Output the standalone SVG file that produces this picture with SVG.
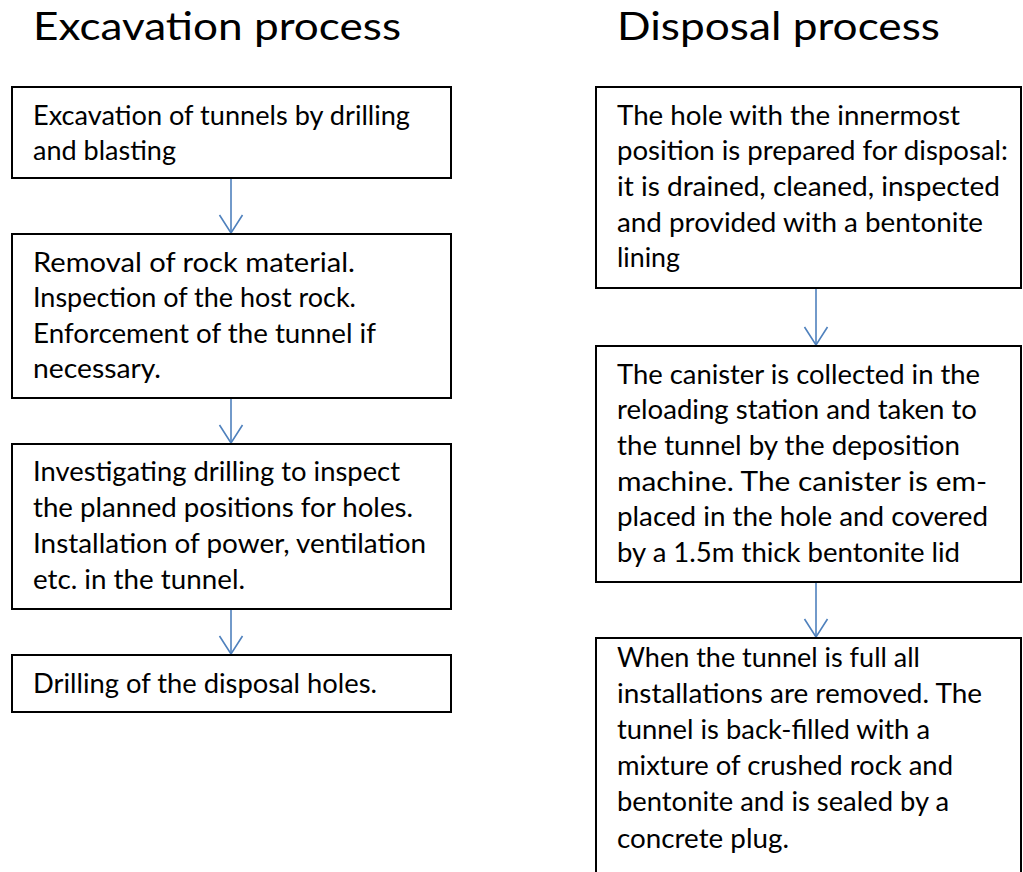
<svg xmlns="http://www.w3.org/2000/svg" width="1023" height="872" viewBox="0 0 1023 872">
<style>
.box{fill:#fff;stroke:#000;stroke-width:2}
.t{font-family:Lato,"Liberation Sans",sans-serif;font-size:26px;fill:#000}
.h{font-family:Lato,"Liberation Sans",sans-serif;font-size:38px;fill:#000}
.c{stroke:#4F81BD;stroke-width:1.6;fill:none}
</style>
<defs>
<marker id="ah" markerWidth="20" markerHeight="26" refX="19" refY="13" orient="auto" markerUnits="userSpaceOnUse" viewBox="0 0 20 26">
<path d="M1,1.5 L19,13 L1,24.5" fill="none" stroke="#4F81BD" stroke-width="1.6"/>
</marker>
</defs>
<rect width="1023" height="872" fill="#fff"/>
<text class="h" x="33" y="40" textLength="368" lengthAdjust="spacingAndGlyphs">Excavation process</text>
<text class="h" x="617" y="40" textLength="323" lengthAdjust="spacingAndGlyphs">Disposal process</text>
<g id="connectors">
<line class="c" x1="231" y1="179" x2="231" y2="233" marker-end="url(#ah)"/>
<line class="c" x1="231" y1="399" x2="231" y2="443" marker-end="url(#ah)"/>
<line class="c" x1="231" y1="610" x2="231" y2="654" marker-end="url(#ah)"/>
<line class="c" x1="816" y1="289" x2="816" y2="345" marker-end="url(#ah)"/>
<line class="c" x1="816" y1="583" x2="816" y2="637" marker-end="url(#ah)"/>
</g>
<g id="e1"><rect class="box" x="12" y="87" width="439" height="91"/>
<text class="t" x="33" y="125" textLength="377" lengthAdjust="spacingAndGlyphs">Excavation of tunnels by drilling</text>
<text class="t" x="33" y="160" textLength="143" lengthAdjust="spacingAndGlyphs">and blasting</text></g>
<g id="e2"><rect class="box" x="12" y="234" width="439" height="164"/>
<text class="t" x="33" y="272" textLength="322" lengthAdjust="spacingAndGlyphs">Removal of rock material.</text>
<text class="t" x="33" y="307" textLength="323" lengthAdjust="spacingAndGlyphs">Inspection of the host rock.</text>
<text class="t" x="33" y="343" textLength="343" lengthAdjust="spacingAndGlyphs">Enforcement of the tunnel if</text>
<text class="t" x="33" y="378" textLength="128" lengthAdjust="spacingAndGlyphs">necessary.</text></g>
<g id="e3"><rect class="box" x="12" y="444" width="439" height="165"/>
<text class="t" x="33" y="481" textLength="367" lengthAdjust="spacingAndGlyphs">Investigating drilling to inspect</text>
<text class="t" x="33" y="517" textLength="380" lengthAdjust="spacingAndGlyphs">the planned positions for holes.</text>
<text class="t" x="33" y="553" textLength="393" lengthAdjust="spacingAndGlyphs">Installation of power, ventilation</text>
<text class="t" x="33" y="589" textLength="212" lengthAdjust="spacingAndGlyphs">etc. in the tunnel.</text></g>
<g id="e4"><rect class="box" x="12" y="655" width="439" height="57"/>
<text class="t" x="33" y="693" textLength="344" lengthAdjust="spacingAndGlyphs">Drilling of the disposal holes.</text></g>
<g id="d1"><rect class="box" x="596" y="87" width="425" height="201"/>
<text class="t" x="617" y="125" textLength="343" lengthAdjust="spacingAndGlyphs">The hole with the innermost</text>
<text class="t" x="617" y="160" textLength="391" lengthAdjust="spacingAndGlyphs">position is prepared for disposal:</text>
<text class="t" x="617" y="196" textLength="383" lengthAdjust="spacingAndGlyphs">it is drained, cleaned, inspected</text>
<text class="t" x="617" y="232" textLength="366" lengthAdjust="spacingAndGlyphs">and provided with a bentonite</text>
<text class="t" x="617" y="267" textLength="63" lengthAdjust="spacingAndGlyphs">lining</text></g>
<g id="d2"><rect class="box" x="596" y="346" width="425" height="236"/>
<text class="t" x="617" y="384" textLength="363" lengthAdjust="spacingAndGlyphs">The canister is collected in the</text>
<text class="t" x="617" y="419" textLength="360" lengthAdjust="spacingAndGlyphs">reloading station and taken to</text>
<text class="t" x="617" y="455" textLength="343" lengthAdjust="spacingAndGlyphs">the tunnel by the deposition</text>
<text class="t" x="617" y="491" textLength="370" lengthAdjust="spacingAndGlyphs">machine. The canister is em-</text>
<text class="t" x="617" y="526" textLength="371" lengthAdjust="spacingAndGlyphs">placed in the hole and covered</text>
<text class="t" x="617" y="562" textLength="343" lengthAdjust="spacingAndGlyphs">by a 1.5m thick bentonite lid</text></g>
<g id="d3"><rect class="box" x="596" y="638" width="425" height="250"/>
<text class="t" x="617" y="667" textLength="303" lengthAdjust="spacingAndGlyphs">When the tunnel is full all</text>
<text class="t" x="617" y="703" textLength="365" lengthAdjust="spacingAndGlyphs">installations are removed. The</text>
<text class="t" x="617" y="739" textLength="313" lengthAdjust="spacingAndGlyphs">tunnel is back-filled with a</text>
<text class="t" x="617" y="775" textLength="336" lengthAdjust="spacingAndGlyphs">mixture of crushed rock and</text>
<text class="t" x="617" y="811" textLength="332" lengthAdjust="spacingAndGlyphs">bentonite and is sealed by a</text>
<text class="t" x="617" y="848" textLength="172" lengthAdjust="spacingAndGlyphs">concrete plug.</text></g>
</svg>
